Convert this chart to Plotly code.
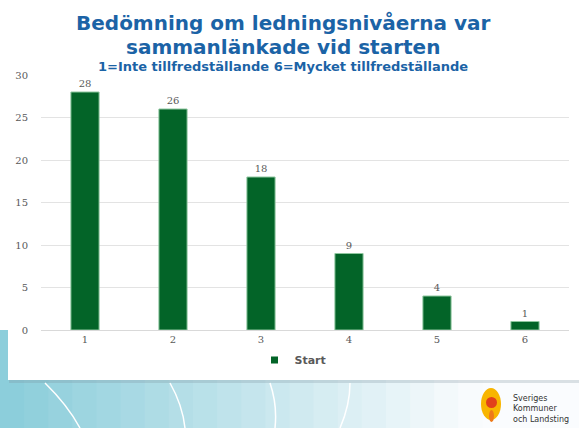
import plotly.graph_objects as go

categories = ["1", "2", "3", "4", "5", "6"]
start_values = [28, 26, 18, 9, 4, 1]
series_name = "Start"
title_line1 = "Bedömning om ledningsnivåerna var"
title_line2 = "sammanlänkade vid starten"
subtitle = "1=Inte tillfredställande 6=Mycket tillfredställande"
logo_text = "Sveriges<br>Kommuner<br>och Landsting"

W, H = 579, 428
L, R, T, B = 41, 10, 75, 98
pw, ph = W - L - R, H - T - B

def px(x):
    return (x - L) / pw

def py(y):
    return (H - B - y) / ph

fig = go.Figure()
fig.add_trace(go.Bar(
    x=categories, y=start_values, name=series_name, showlegend=False,
    marker=dict(color="#036428", line=dict(color="#8fc79f", width=1)),
    text=[str(v) for v in start_values], textposition="outside",
    textfont=dict(family="DejaVu Serif", size=10, color="#595959"),
    cliponaxis=False,
))
fig.add_trace(go.Scatter(
    x=[None], y=[None], mode="markers", name=f"<b>{series_name}</b>",
    marker=dict(symbol="square", size=7, color="#036428"),
))

shapes = []
n = 24
for i in range(n):
    x0 = i * W / n
    x1 = (i + 1) * W / n + 1
    f = min(1.0, i / (n * 0.8))
    r = int(140 + (250 - 140) * f)
    g = int(206 + (252 - 206) * f)
    b = int(219 + (254 - 219) * f)
    shapes.append(dict(type="rect", xref="paper", yref="paper",
                       x0=px(x0), x1=px(x1), y0=py(H), y1=py(330),
                       fillcolor=f"rgb({r},{g},{b})", line=dict(width=0), layer="below"))
shapes.append(dict(type="rect", xref="paper", yref="paper",
                   x0=px(9), x1=px(W + 5), y0=py(383), y1=py(0),
                   fillcolor="rgba(120,140,150,0.25)", line=dict(width=0), layer="below"))
shapes.append(dict(type="rect", xref="paper", yref="paper",
                   x0=px(8), x1=px(W + 5), y0=py(380), y1=py(0),
                   fillcolor="white", line=dict(width=0), layer="below"))
shapes.append(dict(type="rect", xref="paper", yref="paper",
                   x0=px(0), x1=px(8), y0=py(330), y1=py(0),
                   fillcolor="white", line=dict(width=0), layer="below"))
for (xa, xb) in [(45, 80), (170, 185), (270, 275), (350, 340)]:
    shapes.append(dict(type="path", xref="paper", yref="paper",
                       path=f"M {px(xa)} {py(383)} Q {px((xa+xb)/2 + 5)} {py(405)} {px(xb)} {py(H)}",
                       line=dict(color="white", width=1.5), layer="below"))
# logo marks
shapes.append(dict(type="circle", xref="paper", yref="paper",
                   x0=px(481), x1=px(501), y0=py(420), y1=py(388),
                   fillcolor="#f8b500", line=dict(width=0)))
shapes.append(dict(type="circle", xref="paper", yref="paper",
                   x0=px(486), x1=px(497), y0=py(408), y1=py(397),
                   fillcolor="#e2411b", line=dict(width=0)))
shapes.append(dict(type="circle", xref="paper", yref="paper",
                   x0=px(489), x1=px(494), y0=py(422), y1=py(410),
                   fillcolor="#ee7a1a", line=dict(width=0)))

fig.update_layout(
    width=W, height=H,
    margin=dict(l=L, r=R, t=T, b=B, autoexpand=False),
    paper_bgcolor="white", plot_bgcolor="rgba(0,0,0,0)",
    bargap=0.68,
    showlegend=True,
    legend=dict(orientation="h", x=px(293), y=py(360), xanchor="center", yanchor="middle",
                font=dict(family="DejaVu Sans", size=11, color="#595959"),
                bgcolor="rgba(0,0,0,0)", itemwidth=30),
    xaxis=dict(showgrid=False, showline=True, linecolor="#d9d9d9",
               tickfont=dict(family="DejaVu Serif", size=10, color="#595959"), ticks=""),
    yaxis=dict(range=[0, 30], dtick=5, showgrid=True, gridcolor="#e3e3e3",
               zeroline=False, showline=False,
               tickfont=dict(family="DejaVu Serif", size=10, color="#595959"), ticks="",
               ticklabelstandoff=12),
    shapes=shapes,
    annotations=[
        dict(text=f"<b>{title_line1}</b>", xref="paper", yref="paper",
             x=px(283), y=py(23), xanchor="center", yanchor="middle", showarrow=False,
             font=dict(family="DejaVu Sans", size=20, color="#1b63a6")),
        dict(text=f"<b>{title_line2}</b>", xref="paper", yref="paper",
             x=px(283), y=py(47), xanchor="center", yanchor="middle", showarrow=False,
             font=dict(family="DejaVu Sans", size=20, color="#1b63a6")),
        dict(text=f"<b>{subtitle}</b>", xref="paper", yref="paper",
             x=px(283), y=py(67), xanchor="center", yanchor="middle", showarrow=False,
             font=dict(family="DejaVu Sans", size=13, color="#1b63a6")),
        dict(text=logo_text, xref="paper", yref="paper",
             x=px(511), y=py(409), xanchor="left", yanchor="middle", showarrow=False,
             align="left", font=dict(family="DejaVu Sans", size=8, color="#333333")),
    ],
)

fig.write_html("out.html", config={"displayModeBar": False},
               post_script="document.body.style.margin='0';document.body.style.overflow='hidden';")
